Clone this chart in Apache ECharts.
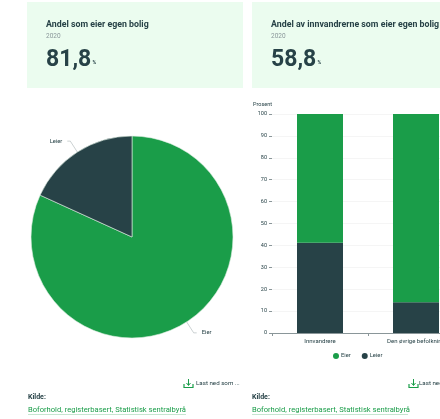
<!DOCTYPE html>
<html>
<head>
<meta charset="utf-8">
<style>html,body{margin:0;padding:0;background:#fff}#c{width:440px;height:419px}</style>
<script src="https://cdn.jsdelivr.net/npm/echarts@6/dist/echarts.min.js"></script>
</head>
<body>
<div id="c"></div>
<script>
// Boligeierskap 2020
const ownershipLabels = ['Eier', 'Leier'];
const ownershipAll = [81.8, 18.2];
const groups = ['Innvandrere', 'Den øvrige befolkning'];
const ownersByGroup = [58.8, 86];
const rentersByGroup = [41.2, 14];
const yTicks = [0, 10, 20, 30, 40, 50, 60, 70, 80, 90, 100];
const cards = [
  { x: 27, w: 216, title: 'Andel som eier egen bolig', year: '2020', value: '81,8' },
  { x: 252, w: 200, title: 'Andel av innvandrerne som eier egen bolig', year: '2020', value: '58,8' }
];
const downloadText = 'Last ned som ...';
const sourceHead = 'Kilde:';
const sourceText = 'Boforhold, registerbasert, Statistisk sentralbyrå';

const GREEN = '#1a9d49', DARK = '#274247', INK = '#274247', FONT = 'Roboto';
const graphics = [];

function label(x, y, text, size, weight, fill) {
  graphics.push({ type: 'text', x, y, style: {
    text, fontFamily: FONT, fontSize: size, fontWeight: weight, fill, verticalAlign: 'middle' } });
}

cards.forEach(c => {
  graphics.push({ type: 'rect', shape: { x: c.x, y: 2, width: c.w, height: 86 }, style: { fill: '#ebfcef' } });
  const tx = c.x + 19;
  label(tx, 25, c.title, 8.8, 700, INK);
  label(tx, 36.5, c.year, 6.5, 400, '#8a979a');
  label(tx, 60, c.value, 23, 700, INK);
  label(tx + 46.5, 63, '%', 5, 700, INK);
});

[{ x: 28, end: 186, icon: 184, text: 196 }, { x: 252, end: 408, icon: 409, text: 419 }].forEach(f => {
  label(f.x, 397, sourceHead, 7, 700, INK);
  label(f.x, 410, sourceText, 7.6, 400, GREEN);
  graphics.push({ type: 'line', shape: { x1: f.x, y1: 414.5, x2: f.end, y2: 414.5 }, style: { stroke: GREEN, lineWidth: 0.5, opacity: 0.5 } });
  // nedlastingsikon
  const ix = f.icon;
  graphics.push({ type: 'polyline', shape: { points: [[ix, 384], [ix, 387.5], [ix + 9, 387.5], [ix + 9, 384]] }, style: { stroke: GREEN, lineWidth: 1.2, fill: 'none' } });
  graphics.push({ type: 'polyline', shape: { points: [[ix + 4.5, 379], [ix + 4.5, 385]] }, style: { stroke: GREEN, lineWidth: 1 } });
  graphics.push({ type: 'polyline', shape: { points: [[ix + 2.5, 383], [ix + 4.5, 385.5], [ix + 6.5, 383]] }, style: { stroke: GREEN, lineWidth: 1, fill: 'none' } });
  label(f.text, 383, downloadText, 6.2, 400, INK);
});

const chart = echarts.init(document.getElementById('c'), null, { renderer: 'canvas' });
chart.setOption({
  animation: false,
  backgroundColor: '#fff',
  textStyle: { fontFamily: FONT },
  graphic: { elements: graphics },
  legend: {
    data: ownershipLabels, left: 328, top: 348, itemWidth: 6, itemHeight: 6, itemGap: 11,
    icon: 'circle', textStyle: { fontSize: 5.8, color: INK, fontFamily: FONT, padding: [0, 0, 0, -3] }
  },
  grid: { left: 272, top: 114, width: 192, height: 219, containLabel: false, outerBoundsMode: 'none' },
  xAxis: {
    type: 'category', data: groups,
    axisLine: { lineStyle: { color: '#8a9699', width: 1 } },
    axisTick: { show: true, alignWithLabel: false, length: 3, lineStyle: { color: '#8a9699' } },
    axisLabel: { fontSize: 6, color: INK, margin: 5, interval: 0, hideOverlap: false }
  },
  yAxis: {
    type: 'value', min: yTicks[0], max: yTicks[yTicks.length - 1], interval: 10,
    name: 'Prosent', nameLocation: 'end', nameGap: 6,
    nameTextStyle: { fontSize: 5.5, color: INK, align: 'right' },
    axisLine: { show: false },
    axisTick: { show: true, length: 3, lineStyle: { color: '#8a9699' } },
    axisLabel: { fontSize: 5.5, color: INK, margin: 5 },
    splitLine: { lineStyle: { color: '#eeeeee', width: 0.6 } }
  },
  series: [
    {
      type: 'bar', name: 'Leier', stack: 'a', data: rentersByGroup, barWidth: 46,
      itemStyle: { color: DARK }
    },
    {
      type: 'bar', name: 'Eier', stack: 'a', data: ownersByGroup, barWidth: 46,
      itemStyle: { color: GREEN }
    },
    {
      type: 'pie', center: [132, 237], radius: [0, 101], startAngle: 90, clockwise: true,
      legendHoverLink: false, silent: true,
      data: ownershipLabels.map((name, i) => ({
        name, value: ownershipAll[i], itemStyle: { color: i === 0 ? GREEN : DARK }
      })),
      itemStyle: { borderColor: '#dfeee2', borderWidth: 0.6 },
      label: { show: true, formatter: '{b}', fontSize: 5.8, color: INK, fontFamily: FONT },
      labelLine: { show: true, length: 13, length2: 3, lineStyle: { color: '#b5bdbf', width: 0.7 } }
    }
  ]
});
</script>
</body>
</html>
